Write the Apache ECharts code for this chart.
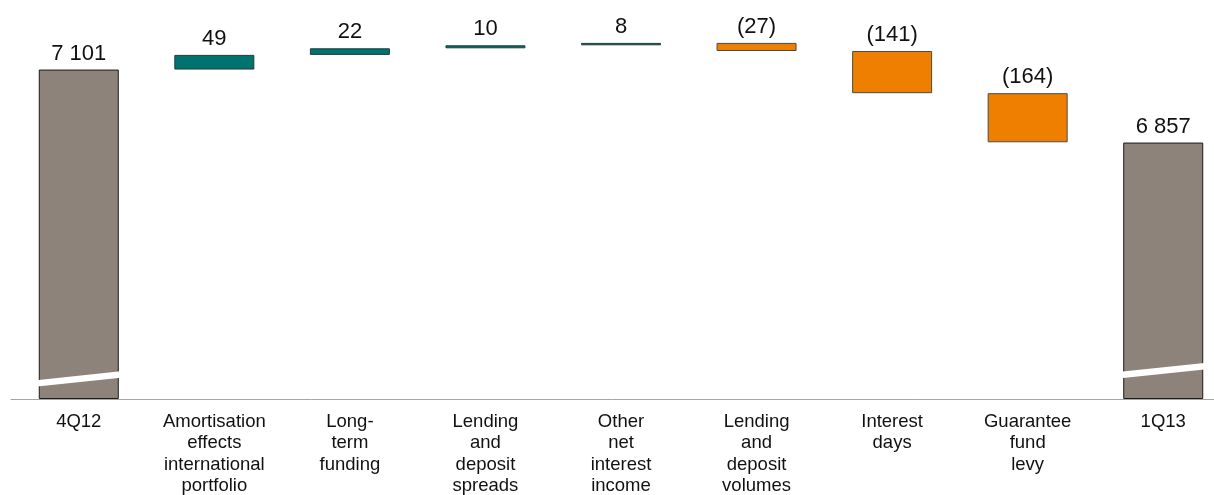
<!DOCTYPE html>
<html>
<head>
<meta charset="utf-8">
<title>Net interest income bridge 4Q12 – 1Q13</title>
<script src="https://cdn.jsdelivr.net/npm/echarts@6/dist/echarts.min.js"></script>
<style>
  html, body { margin: 0; padding: 0; background: #fff; }
  #chart { width: 1214px; height: 495px; }
</style>
</head>
<body>
<div id="chart"></div>
<script>
// Bridge categories (line breaks as printed under each column)
const categories = [
  '4Q12',
  'Amortisation\neffects\ninternational\nportfolio',
  'Long-\nterm\nfunding',
  'Lending\nand\ndeposit\nspreads',
  'Other\nnet\ninterest\nincome',
  'Lending\nand\ndeposit\nvolumes',
  'Interest\ndays',
  'Guarantee\nfund\nlevy',
  '1Q13'
];
// Column values: totals for the first and last columns, changes in between
const values = [7101, 49, 22, 10, 8, -27, -141, -164, 6857];
const kinds = ['total', 'delta', 'delta', 'delta', 'delta', 'delta', 'delta', 'delta', 'total'];

// Value axis range (the axis is broken: it starts well above zero)
const axisMin = 6000;
const axisMax = 7300;

const COLORS = {
  total: '#8D837A',
  up: '#00736F',
  down: '#EE7F00',
  axis: '#A6A6A6',
  text: '#111111'
};

// Build invisible offsets and visible segments for the waterfall
const offsets = [];
const segments = [];
let running = 0;
values.forEach((v, i) => {
  if (kinds[i] === 'total') {
    offsets.push(axisMin);
    segments.push({
      value: v - axisMin,
      label: v,
      itemStyle: { color: COLORS.total, borderColor: '#1a1a1a' }
    });
    running = v;
  } else {
    const next = running + v;
    offsets.push(Math.min(running, next));
    segments.push({
      value: Math.abs(v),
      label: v,
      itemStyle: v >= 0
        ? { color: COLORS.up, borderColor: '#1f3b3a' }
        : { color: COLORS.down, borderColor: '#4a4a4a' }
    });
    running = next;
  }
});

function formatValue(v) {
  const abs = Math.abs(v);
  const s = String(abs).replace(/\B(?=(\d{3})+(?!\d))/g, ' ');
  return v < 0 ? '(' + s + ')' : s;
}

// Axis-break strokes drawn across the two total columns
const breakMarks = [
  { idx: 0, level: 6067, left: 0.38, right: 0.45 },
  { idx: 8, level: 6095, left: 0.58, right: 0.5 }
];

const chart = echarts.init(document.getElementById('chart'), null, { renderer: 'canvas' });

chart.setOption({
  animation: false,
  backgroundColor: '#ffffff',
  grid: {
    left: 11, top: 10, width: 1220, height: 389,
    containLabel: false,
    outerBoundsMode: 'none'
  },
  xAxis: {
    type: 'category',
    data: categories,
    axisLine: { show: true, lineStyle: { color: COLORS.axis, width: 1 } },
    axisTick: { show: false },
    axisLabel: {
      interval: 0,
      margin: 12,
      color: COLORS.text,
      fontFamily: 'Liberation Sans, Arial, sans-serif',
      fontSize: 18.5,
      lineHeight: 21.5,
      align: 'center'
    },
    splitLine: { show: false }
  },
  yAxis: {
    type: 'value',
    min: axisMin,
    max: axisMax,
    show: false,
    splitLine: { show: false }
  },
  series: [
    {
      type: 'bar',
      stack: 'bridge',
      barWidth: 80,
      silent: true,
      itemStyle: { color: 'transparent', borderWidth: 0 },
      data: offsets
    },
    {
      type: 'bar',
      stack: 'bridge',
      barWidth: 80,
      itemStyle: { borderWidth: 1 },
      label: {
        show: true,
        position: 'top',
        distance: 5,
        color: COLORS.text,
        fontFamily: 'Liberation Sans, Arial, sans-serif',
        fontSize: 22,
        formatter: p => formatValue(segments[p.dataIndex].label)
      },
      data: segments.map(s => ({ value: s.value, itemStyle: s.itemStyle }))
    },
    {
      type: 'custom',
      coordinateSystem: 'cartesian2d',
      silent: true,
      z: 10,
      data: breakMarks.map(b => [b.idx, b.level]),
      renderItem: (params, api) => {
        const b = breakMarks[params.dataIndex];
        const c = api.coord([api.value(0), api.value(1)]);
        const band = api.size([1, 0])[0];
        const x1 = c[0] - b.left * band;
        const x2 = c[0] + b.right * band;
        const slope = -0.105;
        return {
          type: 'line',
          shape: {
            x1: x1, y1: c[1] + slope * (x1 - c[0]),
            x2: x2, y2: c[1] + slope * (x2 - c[0])
          },
          style: { stroke: '#ffffff', lineWidth: 6.5, lineCap: 'butt' }
        };
      }
    }
  ]
});
</script>
</body>
</html>
